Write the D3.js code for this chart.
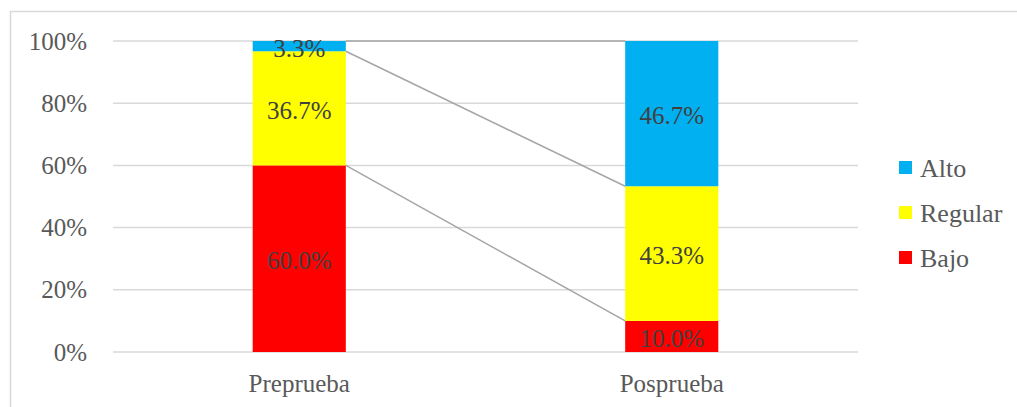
<!DOCTYPE html>
<html>
<head>
<meta charset="utf-8">
<script src="https://cdn.jsdelivr.net/npm/d3@7"></script>
<style>
  body { margin: 0; background: #fff; }
  text { font-family: "Liberation Serif", "Times New Roman", serif; }
</style>
</head>
<body>
<div id="chart"></div>
<script>
// data
var categories = ["Preprueba", "Posprueba"];
var seriesNames = ["Bajo", "Regular", "Alto"];
var bajo = [60.0, 10.0];
var regular = [36.7, 43.3];
var alto = [3.3, 46.7];
var yTicks = [0, 20, 40, 60, 80, 100];

var colors = { Bajo: "#ff0000", Regular: "#ffff00", Alto: "#00b0f0" };
var serif = "'Liberation Serif', 'Times New Roman', serif";

var svgWidth = 1017;
var svgHeight = 407;

var margin = { top: 41, left: 113, right: 159, bottom: 55 };
var width = svgWidth - margin.left - margin.right;
var height = svgHeight - margin.top - margin.bottom;

var svg = d3.select("#chart").append("svg")
  .attr("width", svgWidth)
  .attr("height", svgHeight);

// outer chart border
svg.append("rect")
  .attr("x", 10.5).attr("y", 11.5)
  .attr("width", svgWidth + 10).attr("height", svgHeight + 10)
  .attr("fill", "none")
  .attr("stroke", "#d9d9d9")
  .attr("stroke-width", 1.5);

var g = svg.append("g")
  .attr("transform", `translate(${margin.left}, ${margin.top})`);

var x = d3.scaleBand().domain(categories).range([0, width]).paddingInner(0.75).paddingOuter(0.375);
var y = d3.scaleLinear().domain([0, 100]).range([height, 0]);

// gridlines
g.selectAll(".grid")
  .data(yTicks)
  .enter().append("line")
  .attr("x1", 0).attr("x2", width)
  .attr("y1", d => y(d)).attr("y2", d => y(d))
  .attr("stroke", "#d9d9d9")
  .attr("stroke-width", 1.5);

// y axis labels
var yAxis = g.append("g")
  .call(d3.axisLeft(y).tickValues(yTicks).tickFormat(d => d + "%").tickSize(0).tickPadding(26));
yAxis.attr("font-family", null);
yAxis.select(".domain").remove();
yAxis.selectAll("text")
  .attr("fill", "#595959")
  .style("font-size", "25px")
  .style("font-family", serif);

// x axis labels
var xAxis = g.append("g")
  .attr("transform", `translate(0, ${height})`)
  .call(d3.axisBottom(x).tickSize(0).tickPadding(22));
xAxis.attr("font-family", null);
xAxis.select(".domain").remove();
xAxis.selectAll("text")
  .attr("fill", "#595959")
  .style("font-size", "25px")
  .style("font-family", serif);

// stack the series
var rows = categories.map((c, i) => ({ cat: c, Bajo: bajo[i], Regular: regular[i], Alto: alto[i] }));
var stacked = d3.stack().keys(seriesNames)(rows);

// series lines between bars
stacked.forEach(function(s) {
  g.append("line")
    .attr("x1", x(categories[0]) + x.bandwidth())
    .attr("y1", y(Math.min(100, s[0][1])))
    .attr("x2", x(categories[1]))
    .attr("y2", y(Math.min(100, s[1][1])))
    .attr("stroke", "#a5a5a5")
    .attr("stroke-width", 1.5);
});

// bars
stacked.forEach(function(s) {
  g.selectAll(".bar-" + s.key)
    .data(s)
    .enter().append("rect")
    .attr("x", d => x(d.data.cat))
    .attr("y", d => y(Math.min(100, d[1])))
    .attr("width", x.bandwidth())
    .attr("height", d => y(d[0]) - y(Math.min(100, d[1])))
    .attr("fill", colors[s.key]);
});

// data labels
stacked.forEach(function(s) {
  g.selectAll(".lab-" + s.key)
    .data(s)
    .enter().append("text")
    .attr("x", d => x(d.data.cat) + x.bandwidth() / 2)
    .attr("y", d => (y(d[0]) + y(Math.min(100, d[1]))) / 2)
    .attr("dy", "0.42em")
    .attr("text-anchor", "middle")
    .attr("fill", "#404040")
    .style("font-size", "25px")
    .style("font-family", serif)
    .text(d => (d[1] - d[0]).toFixed(1) + "%");
});

// legend
var legendItems = ["Alto", "Regular", "Bajo"];
var legend = svg.append("g").attr("transform", "translate(899, 168)");
legendItems.forEach(function(k, i) {
  var item = legend.append("g").attr("transform", `translate(0, ${i * 45})`);
  item.append("rect")
    .attr("x", 0).attr("y", -7)
    .attr("width", 13).attr("height", 13)
    .attr("fill", colors[k]);
  item.append("text")
    .attr("x", 21).attr("y", 0)
    .attr("dy", "0.35em")
    .attr("fill", "#595959")
    .style("font-size", "26px")
    .style("font-family", serif)
    .text(k);
});
</script>
</body>
</html>
